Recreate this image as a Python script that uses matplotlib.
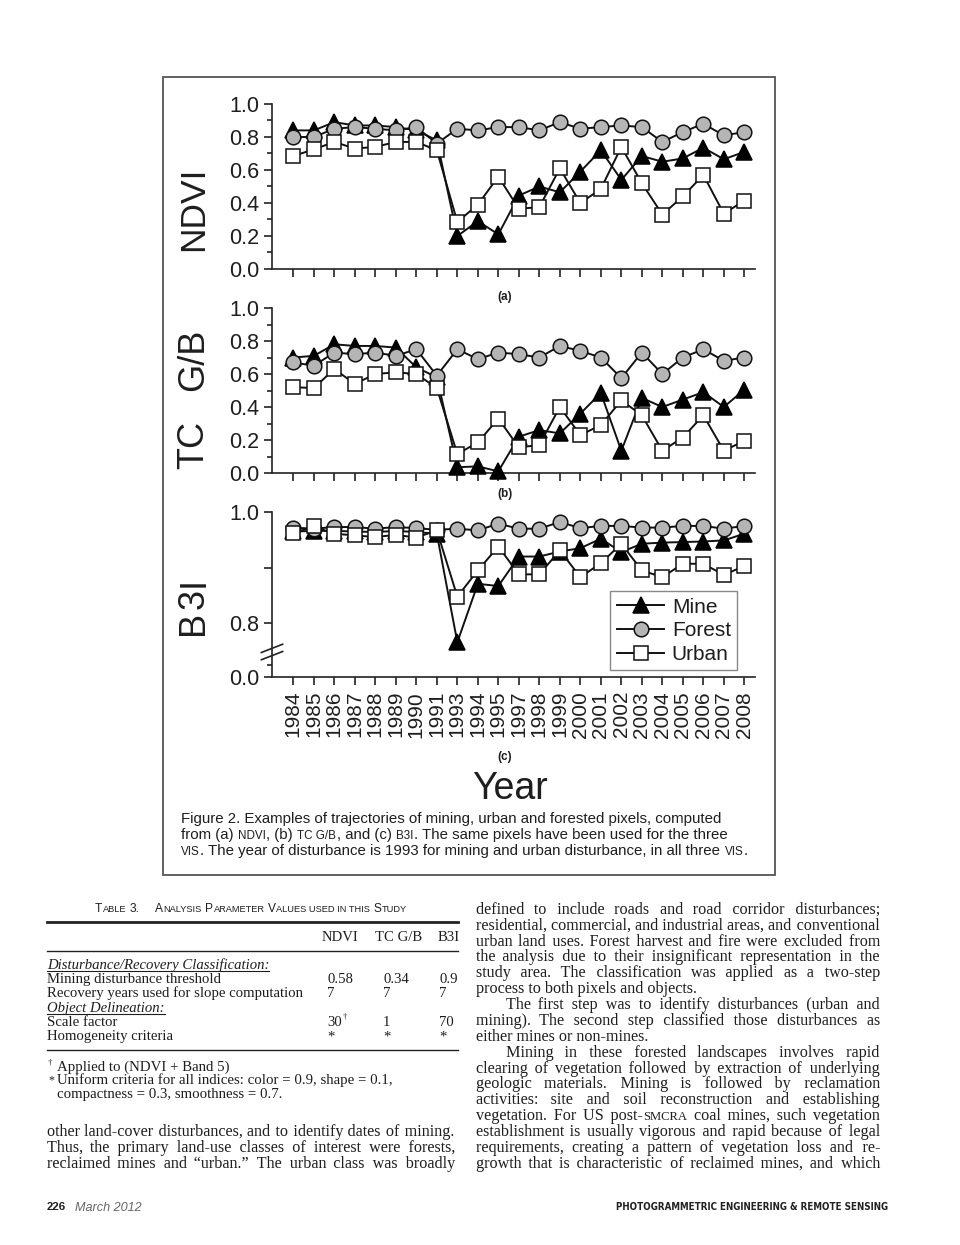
import numpy as np
import matplotlib
matplotlib.use("Agg")
import matplotlib.pyplot as plt
from matplotlib.font_manager import FontProperties, findfont
from matplotlib.ft2font import FT2Font
from matplotlib.lines import Line2D
from matplotlib.patches import Rectangle
from matplotlib.ticker import FixedLocator, MultipleLocator, FormatStrFormatter

W, H = 960, 1245
SANS = "Liberation Sans"
SERIF = "Liberation Serif"
INK = "#1e1e1e"

# ---- data ---------------------------------------------------------------
years = [1984, 1985, 1986, 1987, 1988, 1989, 1990, 1991, 1993, 1994, 1995,
         1997, 1998, 1999, 2000, 2001, 2002, 2003, 2004, 2005, 2006, 2007, 2008]

ndvi_mine = [0.84, 0.84, 0.89, 0.87, 0.87, 0.86, 0.84, 0.78, 0.20, 0.29, 0.21, 0.445,
             0.50, 0.465, 0.59, 0.72, 0.54, 0.685, 0.65, 0.67, 0.735, 0.665, 0.71]
ndvi_forest = [0.80, 0.80, 0.85, 0.86, 0.85, 0.84, 0.86, 0.76, 0.85, 0.84, 0.86, 0.86,
               0.84, 0.89, 0.85, 0.86, 0.87, 0.86, 0.77, 0.83, 0.88, 0.81, 0.83]
ndvi_urban = [0.685, 0.725, 0.77, 0.73, 0.74, 0.77, 0.77, 0.72, 0.285, 0.39, 0.56, 0.365,
              0.375, 0.61, 0.40, 0.485, 0.74, 0.52, 0.33, 0.44, 0.57, 0.335, 0.415]

tcgb_mine = [0.70, 0.71, 0.78, 0.77, 0.77, 0.76, 0.64, 0.58, 0.035, 0.04, 0.01, 0.22,
             0.26, 0.24, 0.36, 0.485, 0.135, 0.455, 0.40, 0.445, 0.49, 0.40, 0.505]
tcgb_forest = [0.67, 0.65, 0.73, 0.72, 0.73, 0.71, 0.75, 0.59, 0.75, 0.69, 0.73, 0.72,
               0.70, 0.77, 0.74, 0.70, 0.575, 0.73, 0.60, 0.70, 0.75, 0.68, 0.70]
tcgb_urban = [0.52, 0.515, 0.63, 0.54, 0.60, 0.61, 0.60, 0.515, 0.115, 0.185, 0.33, 0.155,
              0.17, 0.40, 0.23, 0.29, 0.44, 0.35, 0.135, 0.215, 0.35, 0.135, 0.195]

b3i_mine = [0.965, 0.966, 0.966, 0.965, 0.964, 0.966, 0.964, 0.961, 0.766, 0.871, 0.867, 0.920,
            0.920, 0.929, 0.935, 0.952, 0.928, 0.943, 0.945, 0.946, 0.947, 0.949, 0.961]
b3i_forest = [0.972, 0.970, 0.973, 0.973, 0.970, 0.973, 0.971, 0.968, 0.970, 0.967, 0.979, 0.970,
              0.970, 0.982, 0.971, 0.975, 0.975, 0.972, 0.972, 0.975, 0.975, 0.970, 0.975]
b3i_urban = [0.962, 0.974, 0.961, 0.958, 0.955, 0.959, 0.954, 0.967, 0.848, 0.895, 0.938, 0.888,
             0.888, 0.931, 0.883, 0.908, 0.943, 0.895, 0.883, 0.907, 0.907, 0.887, 0.903]

series_names = ["Mine", "Forest", "Urban"]

# table 3
table_cols = ["NDVI", "TC G/B", "B3I"]
threshold = ["0.58", "0.34", "0.9"]
recovery_years = ["7", "7", "7"]
scale_factor = ["30", "1", "70"]
homogeneity = ["*", "*", "*"]

caption = [
    "Figure 2. Examples of trajectories of mining, urban and forested pixels, computed",
    "from (a) {ndvi}, (b) {tc g/b}, and (c) {b3i}. The same pixels have been used for the three",
    "{vis}. The year of disturbance is 1993 for mining and urban disturbance, in all three {vis}.",
]

left_col = [
    "other land-cover disturbances, and to identify dates of mining.",
    "Thus, the primary land-use classes of interest were forests,",
    "reclaimed mines and \u201curban.\u201d The urban class was broadly",
]
# (text, indent, justify)
right_col = [
    ("defined to include roads and road corridor disturbances;", 0, True),
    ("residential, commercial, and industrial areas, and conventional", 0, True),
    ("urban land uses. Forest harvest and fire were excluded from", 0, True),
    ("the analysis due to their insignificant representation in the", 0, True),
    ("study area. The classification was applied as a two-step", 0, True),
    ("process to both pixels and objects.", 0, False),
    ("The first step was to identify disturbances (urban and", 30, True),
    ("mining). The second step classified those disturbances as", 0, True),
    ("either mines or non-mines.", 0, False),
    ("Mining in these forested landscapes involves rapid", 30, True),
    ("clearing of vegetation followed by extraction of underlying", 0, True),
    ("geologic materials. Mining is followed by reclamation", 0, True),
    ("activities: site and soil reconstruction and establishing", 0, True),
    ("vegetation. For US post-{smcra} coal mines, such vegetation", 0, True),
    ("establishment is usually vigorous and rapid because of legal", 0, True),
    ("requirements, creating a pattern of vegetation loss and re-", 0, True),
    ("growth that is characteristic of reclaimed mines, and which", 0, True),
]

fig = plt.figure(figsize=(W / 100, H / 100), dpi=100)
fig.patch.set_facecolor("white")
R = fig.canvas.get_renderer()


def fx(px):
    return px / W


def fy(py):
    return 1 - py / H


def ptxt(x, y, s, **kw):
    """Figure text placed in page pixels (origin top-left)."""
    kw.setdefault("color", INK)
    return fig.text(fx(x), fy(y), s, **kw)


# ---- text helpers (small caps + justification) ---------------------------
HAIR = "\u200a"


def has_glyph(family, ch):
    try:
        f = FT2Font(findfont(FontProperties(family=family), fallback_to_default=False))
        return f.get_char_index(ord(ch)) != 0
    except Exception:
        return False


HAIR_OK = {fam: has_glyph(fam, HAIR) for fam in (SANS, SERIF)}


def run_w(s, size, **fk):
    return R.get_text_width_height_descent(s, FontProperties(size=size, **fk), ismath=False)[0]


def adv(s, size, fk):
    return run_w("n" + s + "n", size, **fk) - run_w("nn", size, **fk)


def parse_words(text):
    words, cur, sc = [], [], False
    for ch in text:
        if ch == "{":
            sc = True
        elif ch == "}":
            sc = False
        elif ch == " ":
            words.append(cur)
            cur = []
        else:
            cur.append((ch, sc))
    words.append(cur)
    return words


def word_runs(word, size):
    runs = []
    for ch, sc in word:
        small = sc and not ch.isupper()
        s = ch.upper() if small else ch
        sz = size * 0.78 if small else size
        if runs and runs[-1][1] == sz:
            runs[-1][0] += s
        else:
            runs.append([s, sz])
    return runs


PAD = 0.6


def layout(text, size, fk):
    words = parse_words(text)
    runs = [word_runs(w, size) for w in words]
    widths = [sum(run_w(s, sz, **fk) for s, sz in rr) + PAD * max(len(rr) - 1, 0) for rr in runs]
    space = adv(" ", size, fk)
    return runs, widths, space


def measure(text, size, family, **kw):
    fk = dict(family=family, **kw)
    runs, widths, space = layout(text, size, fk)
    return sum(widths) + space * (len(widths) - 1)


def fit(text, target, family, **kw):
    return 10 * target / measure(text, 10, family, **kw)


def draw_line(x, y, text, size, family, width=None, ha="left", color=INK, **kw):
    """One line of page text; y is its visual centre in page pixels.
    Words sharing a size are kept in one Text so baselines stay level; a
    justified line is widened with hair spaces."""
    fk = dict(family=family, **kw)
    runs, widths, space = layout(text, size, fk)
    ngap = len(widths) - 1
    gaps_px = [space] * ngap
    gap_str = [" "] * ngap
    merge = True
    if width is not None and ngap > 0:
        extra = max(width - sum(widths) - space * ngap, 0)
        if HAIR_OK.get(family, False):
            hair = adv(HAIR, size, fk)
            nh = int(round(extra / hair))
            hairs = [nh * (i + 1) // ngap - nh * i // ngap for i in range(ngap)]
            gaps_px = [space + h * hair for h in hairs]
            gap_str = [" " + HAIR * h for h in hairs]
        else:
            gaps_px = [space + extra / ngap] * ngap
            merge = False
    total = sum(widths) + sum(gaps_px)
    if ha == "right":
        x -= total
    elif ha == "center":
        x -= total / 2
    chunks = []  # [string, size, x0]
    cx = x
    for wi, rr in enumerate(runs):
        for ri, (s, sz) in enumerate(rr):
            if ri == 0 and wi > 0:
                if merge and chunks and chunks[-1][1] == sz:
                    chunks[-1][0] += gap_str[wi - 1] + s
                    cx = chunks[-1][2] + run_w(chunks[-1][0], sz, **fk)
                    continue
                cx += gaps_px[wi - 1]
            elif ri > 0:
                cx += PAD
            chunks.append([s, sz, cx])
            cx += run_w(s, sz, **fk)
    yb = y + 0.3 * size * 100 / 72
    for s, sz, x0 in chunks:
        ptxt(x0, yb, s, fontsize=sz, va="baseline", ha="left", color=color, **fk)
    return x, x + total


def vlabel(xc, yc, text, size, track=0.0):
    """Vertical axis title, written bottom-to-top, with optional letter spacing."""
    fk = dict(family=SANS)
    advs = [adv(c, size, fk) for c in text]
    total = sum(advs) + track * (len(advs) - 1)
    pos = yc + total / 2
    for c, a in zip(text, advs):
        if c != " ":
            ptxt(xc, pos - a / 2, c, rotation=90, ha="center", va="center",
                 fontsize=size, family=SANS)
        pos -= a + track


# ---- chart --------------------------------------------------------------
STYLE = {
    "Mine": dict(marker="^", ms=11.5, mfc="black", mec="black"),
    "Forest": dict(marker="o", ms=10.5, mfc="#b5b5b5", mec="#111111"),
    "Urban": dict(marker="s", ms=9.5, mfc="white", mec="#111111"),
}

AX_L, AX_R = 272, 755
x = np.arange(len(years))


def panel(top, bottom, ylim):
    ax = fig.add_axes([fx(AX_L), fy(bottom), (AX_R - AX_L) / W, (bottom - top) / H])
    ax.set_xlim(-1.04, len(years) - 0.48)
    ax.set_ylim(*ylim)
    for s in ("top", "right"):
        ax.spines[s].set_visible(False)
    for s in ("left", "bottom"):
        ax.spines[s].set_linewidth(1.2)
        ax.spines[s].set_color("#222222")
    ax.set_xticks(x)
    ax.tick_params(axis="x", direction="out", length=6, width=1.2, color="#222222",
                   labelbottom=False)
    ax.tick_params(axis="y", which="major", direction="out", length=6, width=1.2,
                   color="#222222", labelsize=15.5, pad=3, labelcolor=INK)
    ax.tick_params(axis="y", which="minor", direction="out", length=3.5, width=1.2,
                   color="#222222")
    ax.patch.set_alpha(0)
    return ax


def draw_series(ax, values):
    lines = []
    for name, vals in zip(series_names, values):
        ln, = ax.plot(x, vals, color="#111111", lw=1.4, mew=1.1, clip_on=False,
                      zorder=3, label=name, **STYLE[name])
        lines.append(ln)
    return lines


ax_a = panel(104, 269, (0, 1.0))
ax_b = panel(308, 473, (0, 1.0))
for ax in (ax_a, ax_b):
    ax.yaxis.set_major_locator(MultipleLocator(0.2))
    ax.yaxis.set_minor_locator(MultipleLocator(0.1))
    ax.yaxis.set_major_formatter(FormatStrFormatter("%.1f"))
    for t in ax.get_yticklabels():
        t.set_family(SANS)

C_BOTTOM = 0.7036
ax_c = panel(512, 677, (C_BOTTOM, 1.0))
ax_c.yaxis.set_major_locator(FixedLocator([C_BOTTOM, 0.8, 0.9, 1.0]))
ax_c.set_yticklabels(["0.0", "0.8", "", "1.0"], family=SANS)
ax_c.yaxis.set_minor_locator(FixedLocator([0.7246]))
ax_c.set_xticklabels([str(y) for y in years], rotation=90, family=SANS, fontsize=15,
                     color=INK)
ax_c.tick_params(axis="x", labelbottom=True, pad=4)

draw_series(ax_a, [ndvi_mine, ndvi_forest, ndvi_urban])
draw_series(ax_b, [tcgb_mine, tcgb_forest, tcgb_urban])
handles = draw_series(ax_c, [b3i_mine, b3i_forest, b3i_urban])

leg = ax_c.legend(handles, series_names, loc="lower right", bbox_to_anchor=(0.963, 0.042),
                  frameon=True, fancybox=False, edgecolor="#888888", framealpha=1,
                  prop=FontProperties(family=SANS, size=15), handlelength=2.3,
                  handletextpad=0.35, labelspacing=0.22, borderpad=0.3, borderaxespad=0)
leg.get_frame().set_linewidth(1.0)
for t in leg.get_texts():
    t.set_color(INK)

# axis break marks on the B3I axis
yb = (677 - 652) / 165
for dy in (-0.022, 0.022):
    ax_c.plot([-0.022, 0.022], [yb + dy - 0.025, yb + dy + 0.025], transform=ax_c.transAxes,
              color="#222222", lw=1.2, clip_on=False)

# axis titles and panel tags
ptxt(194, 209, "NDVI", rotation=90, ha="center", va="center", fontsize=25.5, family=SANS)
ptxt(194, 445, "TC", rotation=90, ha="center", va="center", fontsize=26, family=SANS)
ptxt(194, 360, "G/B", rotation=90, ha="center", va="center", fontsize=26, family=SANS)
vlabel(194, 606, "B3I", 26, track=2)
ptxt(510, 789, "Year", ha="center", va="center", fontsize=27, family=SANS)
for tag, yy in (("(a)", 297), ("(b)", 494), ("(c)", 757)):
    ptxt(505, yy, tag, ha="center", va="center", fontsize=8.5, family=SANS, weight="bold")

fig.add_artist(Rectangle((fx(163), fy(875)), (775 - 163) / W, (875 - 77) / H,
                         transform=fig.transFigure, fill=False, lw=1.3, ec="#555555"))

# caption
cap_size = fit(caption[0], 540, SANS)
for k, line in enumerate(caption):
    draw_line(181, 819 + 16 * k, line, cap_size, SANS)

# ---- Table 3 ------------------------------------------------------------
t_size = fit("{Analysis Parameter Values used in this Study}", 255, SANS)
draw_line(95, 908, "{Table} 3.", t_size, SANS)
draw_line(155, 908, "{Analysis Parameter Values used in this Study}", t_size, SANS)


def hrule(y, lw):
    fig.add_artist(Line2D([fx(47), fx(458)], [fy(y), fy(y)], transform=fig.transFigure,
                          color="#222222", lw=lw))


hrule(922, 2.0)
hrule(951, 1.0)
hrule(1050, 1.0)

tab_size = fit("Recovery years used for slope computation", 256, SERIF)
col_x = [327, 383, 439]
for name, cx in zip(table_cols, [322, 375, 438]):
    draw_line(cx, 937, name, tab_size, SERIF)


def underlined(y, text):
    x0, x1 = draw_line(47, y, text, tab_size, SERIF, style="italic")
    uy = y + 0.3 * tab_size * 100 / 72 + 2
    fig.add_artist(Line2D([fx(x0), fx(x1)], [fy(uy), fy(uy)], transform=fig.transFigure,
                          color=INK, lw=0.8))


underlined(965, "Disturbance/Recovery Classification:")
rows = [(979, "Mining disturbance threshold", threshold),
        (993, "Recovery years used for slope computation", recovery_years),
        (1022, "Scale factor", scale_factor),
        (1036, "Homogeneity criteria", homogeneity)]
underlined(1008, "Object Delineation:")
for yy, label, vals in rows:
    draw_line(47, yy, label, tab_size, SERIF)
    for v, cx in zip(vals, col_x):
        draw_line(cx, yy, v, tab_size, SERIF)
# dagger on the NDVI scale factor
ptxt(343, 1019, "\u2020", fontsize=tab_size * 0.6, family=SERIF, va="baseline")

fn_size = fit("Uniform criteria for all indices: color = 0.9, shape = 0.1,", 336, SERIF)
ptxt(48, 1065, "\u2020", fontsize=fn_size * 0.6, family=SERIF, va="baseline")
draw_line(57, 1066, "Applied to (NDVI + Band 5)", fn_size, SERIF)
ptxt(48, 1083, "*", fontsize=fn_size * 0.8, family=SERIF, va="baseline")
draw_line(57, 1080, "Uniform criteria for all indices: color = 0.9, shape = 0.1,", fn_size, SERIF)
draw_line(57, 1094, "compactness = 0.3, smoothness = 0.7.", fn_size, SERIF)

# ---- body text ----------------------------------------------------------
fits = [fit(t, 404 - ind, SERIF) for t, ind, j in right_col if j]
fits += [fit(t, 408, SERIF) for t in left_col]
body_size = min(fits)
LINE0, STEP = 909, 15.875
for k, (line, indent, just) in enumerate(right_col):
    draw_line(476 + indent, LINE0 + STEP * k, line, body_size, SERIF,
              width=(404 - indent) if just else None)
for k, line in enumerate(left_col):
    draw_line(47, LINE0 + STEP * (14 + k), line, body_size, SERIF, width=408)

# ---- running footer -----------------------------------------------------
draw_line(47, 1207, "226", fit("226", 19, SANS, weight="bold"), SANS, weight="bold")
draw_line(75, 1207, "March 2012", fit("March 2012", 67, SANS, style="italic"), SANS,
          style="italic", color="#666666")
foot = "PHOTOGRAMMETRIC ENGINEERING & REMOTE SENSING"
FOOT_FONT = dict(weight="bold", stretch="condensed")
draw_line(888, 1207, foot, fit(foot, 274, "DejaVu Sans", **FOOT_FONT), "DejaVu Sans",
          ha="right", color="#222222", **FOOT_FONT)

fig.savefig("out.png", dpi=100, facecolor="white")
